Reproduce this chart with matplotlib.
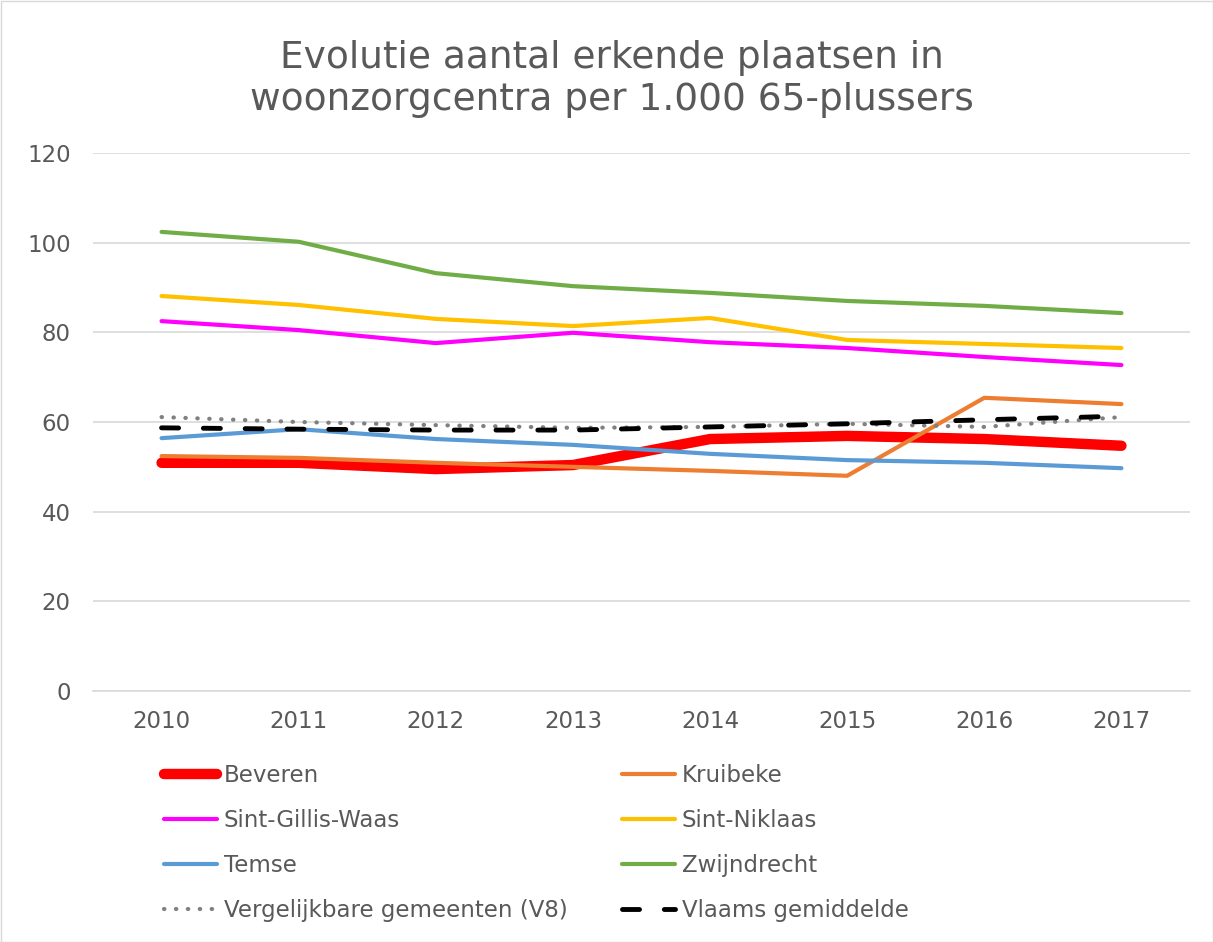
import matplotlib
matplotlib.use("Agg")
import matplotlib.pyplot as plt
from matplotlib.patches import Rectangle

years = ["2010", "2011", "2012", "2013", "2014", "2015", "2016", "2017"]
beveren = [50.9, 50.9, 49.5, 50.4, 56.2, 56.9, 56.2, 54.7]
kruibeke = [52.4, 52.0, 50.9, 50.0, 49.1, 48.0, 65.4, 64.0]
sint_gillis = [82.5, 80.5, 77.6, 79.9, 77.8, 76.5, 74.5, 72.7]
sint_niklaas = [88.1, 86.1, 83.0, 81.4, 83.2, 78.3, 77.4, 76.5]
temse = [56.4, 58.4, 56.2, 54.9, 52.9, 51.5, 50.9, 49.7]
zwijndrecht = [102.4, 100.2, 93.2, 90.3, 88.8, 87.0, 85.9, 84.3]
v8 = [61.1, 60.0, 59.3, 58.7, 58.9, 59.6, 58.9, 61.1]
vlaams = [58.7, 58.4, 58.2, 58.2, 58.9, 59.6, 60.5, 61.3]

W, H = 1213, 942
fig = plt.figure(figsize=(W / 100, H / 100), dpi=100)
ax = fig.add_axes([93 / W, 1 - 691 / H, (1190 - 93) / W, (691 - 153) / H])

x = range(len(years))
txt = "#595959"
h = {}
h["Beveren"], = ax.plot(x, beveren, color="#FF0000", lw=7.5, solid_capstyle="round", label="Beveren", zorder=3)
h["Kruibeke"], = ax.plot(x, kruibeke, color="#ED7D31", lw=3, solid_capstyle="round", label="Kruibeke", zorder=3)
h["SGW"], = ax.plot(x, sint_gillis, color="#FF00FF", lw=3, solid_capstyle="round", label="Sint-Gillis-Waas", zorder=3)
h["SN"], = ax.plot(x, sint_niklaas, color="#FFC000", lw=3, solid_capstyle="round", label="Sint-Niklaas", zorder=3)
h["Temse"], = ax.plot(x, temse, color="#5B9BD5", lw=3, solid_capstyle="round", label="Temse", zorder=3)
h["Zw"], = ax.plot(x, zwijndrecht, color="#70AD47", lw=3, solid_capstyle="round", label="Zwijndrecht", zorder=3)
h["V8"], = ax.plot(x, v8, color="#808080", lw=3, linestyle=(0, (0.1, 2.76)), dash_capstyle="round",
                   label="Vergelijkbare gemeenten (V8)", zorder=3)
h["VL"], = ax.plot(x, vlaams, color="black", lw=3.5, linestyle=(0, (3.5, 5.1)), dash_capstyle="round",
                   label="Vlaams gemiddelde", zorder=3)

ax.set_xlim(-0.5, 7.5)
ax.set_ylim(0, 120)
ax.set_yticks(range(0, 121, 20))
ax.set_xticks(list(x))
ax.set_xticklabels(years)
ax.grid(axis="y", color="#D9D9D9", lw=1.2, zorder=0)
for s in ["top", "right", "left"]:
    ax.spines[s].set_visible(False)
ax.spines["bottom"].set_color("#D9D9D9")
ax.spines["bottom"].set_linewidth(1.2)
ax.tick_params(axis="both", length=0, labelsize=16.5, labelcolor=txt)
ax.tick_params(axis="y", pad=16)
ax.tick_params(axis="x", pad=14)

fig.text(612 / W, 1 - 79 / H, "Evolutie aantal erkende plaatsen in\nwoonzorgcentra per 1.000 65-plussers",
         ha="center", va="center", fontsize=27, color=txt, linespacing=1.25)

order = ["Beveren", "SGW", "Temse", "V8", "Kruibeke", "SN", "Zw", "VL"]
handles = [h[k] for k in order]
leg = fig.legend(handles=handles, labels=[hh.get_label() for hh in handles],
                 loc="upper left", bbox_to_anchor=(164 / W, 1 - 764 / H), ncol=2, frameon=False,
                 fontsize=16.5, labelcolor=txt, handlelength=2.3, handletextpad=0.3,
                 columnspacing=2.4, labelspacing=0.96, borderpad=0, borderaxespad=0)

fig.add_artist(Rectangle((0.5 / W, 0.5 / H), 1 - 1 / W, 1 - 1 / H, transform=fig.transFigure,
                         fill=False, edgecolor="#D9D9D9", lw=1))
fig.savefig("out.png", dpi=100)
